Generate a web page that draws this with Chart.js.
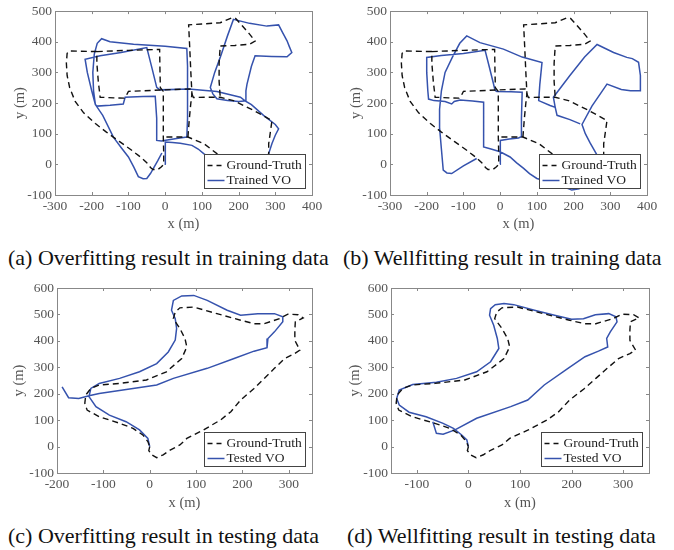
<!DOCTYPE html>
<html>
<head>
<meta charset="utf-8">
<script src="https://cdn.jsdelivr.net/npm/chart.js@4.4.1/dist/chart.umd.min.js"></script>
<style>
  body { margin: 0; background: #fff; width: 674px; height: 550px; position: relative; overflow: hidden; font-family: "Liberation Serif", serif; }
  canvas { position: absolute; }
  .cap { position: absolute; font-size: 22px; color: #111; white-space: nowrap; line-height: 24px; }
</style>
</head>
<body>
<canvas id="chartA" width="337" height="240" style="left:0;top:0"></canvas>
<canvas id="chartB" width="337" height="240" style="left:337px;top:0"></canvas>
<canvas id="chartC" width="337" height="250" style="left:0;top:270px"></canvas>
<canvas id="chartD" width="337" height="250" style="left:337px;top:270px"></canvas>
<div class="cap" style="left:8px;top:246px">(a) Overfitting result in training data</div>
<div class="cap" style="left:343px;top:246px">(b) Wellfitting result in training data</div>
<div class="cap" style="left:8px;top:524px">(c) Overfitting result in testing data</div>
<div class="cap" style="left:347px;top:524px">(d) Wellfitting result in testing data</div>
<script>
// tick values
const xTicksTrain = [-300, -200, -100, 0, 100, 200, 300, 400];
const yTicksTrain = [-100, 0, 100, 200, 300, 400, 500];
const xTicksTestC = [-200, -100, 0, 100, 200, 300];
const xTicksTestD = [-100, 0, 100, 200, 300];
const yTicksTest = [-100, 0, 100, 200, 300, 400, 500, 600];

const gtLabel = 'Ground-Truth';

// ground truth of the training sequence (same in a and b), two pieces
const gtTrainLoop = [
  [-186, 368], [-230, 369], [-262, 370], [-267, 362], [-269, 330], [-267, 290], [-260, 250],
  [-245, 205], [-222, 168], [-190, 133], [-160, 105], [-125, 75], [-90, 45], [-65, 22],
  [-50, 5], [-40, -10], [-33, -17], [-20, -17], [-10, -8], [-4, 0], [-4, 40], [-5, 89],
  [-5, 170], [-5, 238], [-13, 250], [-14, 300], [-15, 375], [-100, 372], [-186, 368],
  [-186, 330], [-182, 270], [-177, 219], [-140, 217], [-112, 216], [-106, 224], [-100, 238],
  [-40, 241], [20, 244], [68, 246], [72, 232], [77, 218], [110, 219], [150, 219], [186, 208],
  [241, 176], [291, 143], [286, 100], [282, 67], [282, 35], [282, 15], [240, 12], [180, 18],
  [141, 35], [105, 68], [62, 89], [-5, 89]
];
const gtTrainBranch = [
  [62, 89], [66, 150], [70, 200], [73, 230], [70, 300], [67, 380], [64, 455], [100, 458],
  [150, 462], [170, 472], [182, 478], [192, 476], [210, 452], [230, 425], [245, 402],
  [230, 392], [190, 388], [150, 386], [147, 330], [147, 270], [150, 219]
];

// trained VO, overfitting (a)
const voTrainOver = [
  [2, 0], [1, 30], [0, 73], [20, 71], [41, 69], [73, 62], [90, 50], [105, 35], [130, 15],
  [180, 5], [240, 10], [275, 25], [282, 35], [291, 68], [300, 95], [309, 116], [300, 130],
  [268, 160], [235, 195], [218, 207], [220, 240], [223, 262], [235, 320], [245, 354],
  [290, 352], [332, 351], [345, 365], [338, 385], [332, 403], [320, 430], [309, 455],
  [277, 451], [230, 460], [186, 473], [170, 420], [150, 349], [135, 300], [123, 251],
  [130, 230], [141, 214], [170, 208], [200, 205], [218, 207], [205, 219], [141, 238],
  [64, 246], [-14, 243], [-23, 251], [-35, 310], [-50, 381], [-120, 365], [-177, 354],
  [-218, 343], [-212, 300], [-200, 240], [-190, 195], [-186, 190], [-150, 193], [-114, 197],
  [-109, 219], [-60, 221], [-27, 222], [-23, 150], [-23, 78], [-10, 76], [10, 80], [40, 86],
  [59, 89], [61, 150], [62, 251], [60, 320], [59, 378], [0, 385], [-86, 392], [-150, 400],
  [-173, 410], [-185, 395], [-193, 360], [-197, 300], [-195, 240], [-190, 195], [-170, 160],
  [-141, 89], [-120, 55], [-100, 24], [-85, -10], [-73, -40], [-60, -47], [-50, -46],
  [-40, -30], [-32, -13], [-20, 12], [-9, 37]
];

// trained VO, wellfitting (b)
const voTrainWell = [
  [0, 0], [0, 40], [1, 78], [25, 83], [50, 86], [57, 90], [58, 150], [60, 235], [30, 237],
  [-9, 238], [-14, 242], [-18, 262], [-30, 320], [-41, 372], [-100, 362], [-160, 355],
  [-200, 349], [-200, 300], [-197, 240], [-195, 213], [-180, 208], [-150, 205], [-132, 197],
  [-125, 205], [-109, 210], [-75, 207], [-45, 203], [-45, 130], [-45, 57], [-25, 50], [0, 41],
  [27, 24], [45, 5], [64, -13], [80, -30], [100, -46], [140, -60], [173, -73], [195, -84],
  [215, -80], [240, -40], [255, 0], [264, 30], [245, 70], [232, 100], [223, 130], [250, 190],
  [291, 262], [330, 244], [355, 240], [382, 240], [382, 290], [377, 333], [360, 345],
  [345, 349], [309, 365], [264, 391], [230, 350], [190, 290], [145, 219], [150, 186],
  [155, 160], [190, 146], [218, 132], [190, 146], [155, 160], [150, 186], [136, 192],
  [105, 208], [108, 260], [114, 332], [60, 350], [9, 376], [-55, 397], [-91, 419],
  [-110, 395], [-130, 350], [-150, 300], [-160, 240], [-165, 180], [-165, 120], [-160, 50],
  [-155, -19], [-145, -28], [-132, -30], [-100, -5], [-64, 19]
];

// ground truth of the testing sequence (same in c and d)
const gtTest = [
  [0, 0], [-2, -15], [4, -31], [15, -42], [29, -31], [44, -13], [65, 6], [80, 31], [116, 63],
  [153, 101], [175, 132], [196, 176], [225, 220], [247, 258], [269, 296], [291, 333],
  [313, 352], [324, 365], [318, 385], [313, 402], [313, 440], [314, 472], [331, 487],
  [320, 499], [298, 501], [280, 484], [247, 465], [225, 465], [196, 478], [145, 503],
  [95, 528], [65, 525], [55, 509], [51, 484], [65, 447], [76, 409], [80, 377], [69, 333],
  [36, 283], [-7, 252], [-65, 239], [-109, 233], [-127, 220], [-138, 195], [-140, 164],
  [-135, 138], [-109, 113], [-65, 88], [-36, 69], [-15, 44], [-4, 19], [0, 0]
];

// tested VO, overfitting (c)
const voTestOver = [
  [0, 0], [-4, 31], [-22, 63], [-51, 94], [-87, 119], [-116, 151], [-131, 189], [-127, 220],
  [-109, 239], [-65, 258], [-22, 283], [15, 314], [40, 358], [55, 403], [58, 447], [55, 484],
  [47, 516], [51, 553], [69, 570], [95, 572], [124, 553], [167, 516], [196, 497], [233, 503],
  [269, 503], [287, 491], [287, 472], [269, 434], [255, 409], [253, 374], [225, 361],
  [182, 333], [124, 296], [51, 258], [15, 233], [-36, 220], [-109, 201], [-131, 192],
  [-153, 182], [-175, 185], [-189, 226]
];

// tested VO, wellfitting (d)
const voTestWell = [
  [0, 0], [-3, 25], [-13, 44], [-29, 69], [-49, 88], [-82, 113], [-115, 130], [-134, 157],
  [-139, 182], [-134, 214], [-108, 235], [-62, 243], [-23, 258], [16, 283], [43, 321],
  [59, 371], [56, 409], [49, 459], [41, 497], [43, 522], [52, 537], [69, 541], [88, 537],
  [128, 516], [167, 497], [200, 482], [223, 484], [246, 499], [272, 503], [286, 491],
  [288, 472], [275, 434], [268, 409], [270, 377], [252, 361], [226, 340], [193, 296],
  [147, 233], [115, 176], [82, 151], [16, 107], [-26, 63], [-49, 47], [-62, 50], [-69, 94]
];

const BLUE = '#3552ad';
const TEXT = '#555';
const serif = 'Liberation Serif';

const toPts = arr => arr.map(p => ({ x: p[0], y: p[1] }));

// MATLAB-like box with inward ticks
const frame = {
  id: 'frame',
  afterDraw(chart) {
    const { ctx, chartArea: a, scales } = chart;
    ctx.save();
    ctx.strokeStyle = '#888';
    ctx.lineWidth = 1;
    ctx.strokeRect(Math.round(a.left) + 0.5, Math.round(a.top) + 0.5,
      Math.round(a.right - a.left), Math.round(a.bottom - a.top));
    ctx.beginPath();
    scales.x.ticks.forEach(t => {
      const px = Math.round(scales.x.getPixelForValue(t.value)) + 0.5;
      ctx.moveTo(px, a.bottom); ctx.lineTo(px, a.bottom - 3);
      ctx.moveTo(px, a.top); ctx.lineTo(px, a.top + 3);
    });
    scales.y.ticks.forEach(t => {
      const py = Math.round(scales.y.getPixelForValue(t.value)) + 0.5;
      ctx.moveTo(a.left, py); ctx.lineTo(a.left + 3, py);
      ctx.moveTo(a.right, py); ctx.lineTo(a.right - 3, py);
    });
    ctx.stroke();
    ctx.restore();
  }
};

// legend box inside the lower right corner
const boxLegend = {
  id: 'boxLegend',
  afterDatasetsDraw(chart, args, opts) {
    const { ctx, chartArea: a } = chart;
    const w = 101, h = 34;
    const x0 = Math.round(a.right - 7 - w) + 0.5, y0 = Math.round(a.bottom - 7 - h) + 0.5;
    ctx.save();
    ctx.fillStyle = '#fff';
    ctx.fillRect(x0, y0, w, h);
    ctx.strokeStyle = '#444';
    ctx.lineWidth = 1;
    ctx.strokeRect(x0, y0, w, h);
    ctx.lineWidth = 1.5;
    ctx.strokeStyle = '#111';
    ctx.setLineDash([5, 4]);
    ctx.beginPath(); ctx.moveTo(x0 + 3, y0 + 11); ctx.lineTo(x0 + 20, y0 + 11); ctx.stroke();
    ctx.setLineDash([]);
    ctx.strokeStyle = BLUE;
    ctx.beginPath(); ctx.moveTo(x0 + 3, y0 + 26); ctx.lineTo(x0 + 20, y0 + 26); ctx.stroke();
    ctx.fillStyle = '#222';
    ctx.font = '13.5px "' + serif + '"';
    ctx.textBaseline = 'middle';
    ctx.fillText(gtLabel, x0 + 22, y0 + 11);
    ctx.fillText(opts.voLabel, x0 + 22, y0 + 26);
    ctx.restore();
  }
};

function makePlot(id, area, gtParts, vo, voLabel, xRange, yRange, xTicks, yTicks, titlePad) {
  const canvas = document.getElementById(id);
  const H = canvas.height, W = canvas.width;
  const datasets = gtParts.map(part => ({
    label: gtLabel, data: toPts(part), showLine: true, borderColor: '#111',
    borderWidth: 1.4, borderDash: [6, 4], pointRadius: 0, fill: false
  }));
  datasets.push({
    label: voLabel, data: toPts(vo), showLine: true, borderColor: BLUE,
    borderWidth: 1.5, pointRadius: 0, fill: false
  });
  return new Chart(canvas, {
    type: 'scatter',
    data: { datasets },
    options: {
      responsive: false,
      animation: false,
      devicePixelRatio: 1,
      layout: { padding: { left: 0, top: area.top, right: W - area.right, bottom: 0 } },
      plugins: {
        legend: { display: false },
        tooltip: { enabled: false },
        boxLegend: { voLabel }
      },
      scales: {
        x: {
          type: 'linear', min: xRange[0], max: xRange[1],
          afterBuildTicks: s => { s.ticks = xTicks.map(v => ({ value: v })); },
          afterFit: s => { s.height = H - area.bottom; },
          grid: { display: false, drawTicks: false },
          border: { display: false },
          ticks: { color: TEXT, font: { family: serif, size: 13.5 }, padding: 3, maxRotation: 0, autoSkip: false, callback: v => String(v) },
          title: { display: true, text: 'x (m)', color: TEXT, font: { family: serif, size: 14.5 }, padding: { top: 0, bottom: titlePad.x } }
        },
        y: {
          type: 'linear', min: yRange[0], max: yRange[1],
          afterBuildTicks: s => { s.ticks = yTicks.map(v => ({ value: v })); },
          afterFit: s => { s.width = area.left; },
          grid: { display: false, drawTicks: false },
          border: { display: false },
          ticks: { color: TEXT, font: { family: serif, size: 13.5 }, padding: 3, autoSkip: false, callback: v => String(v) },
          title: { display: true, text: 'y (m)', color: TEXT, font: { family: serif, size: 14.5 }, padding: { top: titlePad.y, bottom: 0 } }
        }
      }
    },
    plugins: [boxLegend, frame]
  });
}

makePlot('chartA', { left: 55, top: 10, right: 312, bottom: 195 }, [gtTrainLoop, gtTrainBranch], voTrainOver,
  'Trained VO', [-300, 400], [-100, 500], xTicksTrain, yTicksTrain, { x: 7, y: 11 });
makePlot('chartB', { left: 53, top: 10, right: 310, bottom: 195 }, [gtTrainLoop, gtTrainBranch], voTrainWell,
  'Trained VO', [-300, 400], [-100, 500], xTicksTrain, yTicksTrain, { x: 7, y: 10 });
makePlot('chartC', { left: 57, top: 18, right: 312, bottom: 203 }, [gtTest], voTestOver,
  'Tested VO', [-200, 350], [-100, 600], xTicksTestC, yTicksTest, { x: 8, y: 10 });
makePlot('chartD', { left: 54, top: 18, right: 312, bottom: 203 }, [gtTest], voTestWell,
  'Tested VO', [-150, 350], [-100, 600], xTicksTestD, yTicksTest, { x: 8, y: 9 });
</script>
</body>
</html>
